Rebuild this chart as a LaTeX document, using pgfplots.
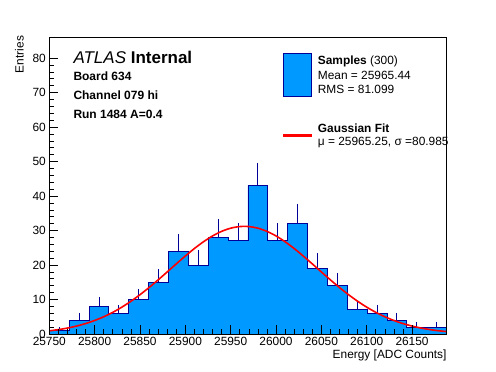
\documentclass[border=0pt]{standalone}
\usepackage{fontspec}
\setmainfont{Liberation Sans}
\usepackage{pgfplots}
\pgfplotsset{compat=1.18}
\definecolor{histfill}{RGB}{0,153,255}
\definecolor{histline}{RGB}{0,0,153}
\definecolor{fitred}{RGB}{255,0,0}
\begin{document}
\begin{tikzpicture}
\useasboundingbox (0pt,0pt) rectangle (496pt,372pt);
\begin{axis}[
  at={(49.3pt,38pt)}, anchor=south west,
  scale only axis, width=397.4pt, height=296.7pt,
  xmin=25750, xmax=26188.2, ymin=0, ymax=86,
  axis on top,
  tick align=inside, tick pos=left,
  major tick length=9pt, minor tick length=4.5pt,
  xtick={25750,25800,...,26150}, minor x tick num=4,
  ytick={0,10,...,80}, minor y tick num=4,
  scaled x ticks=false,
  /pgf/number format/1000 sep={},
  /pgf/number format/assume math mode=true,
  tick label style={font=\fontsize{11.9}{14}\selectfont},
  every tick/.style={black, line width=0.6pt},
  axis line style={line width=0.8pt},
  xlabel={Energy [ADC Counts]},
  xlabel style={at={(axis description cs:1,-0.052)}, anchor=north east, inner sep=0pt, font=\fontsize{11.9}{14}\selectfont},
  ylabel={Entries},
  ylabel style={at={(axis description cs:-0.0637,1.005)}, anchor=south east, inner sep=0pt, font=\fontsize{11.9}{14}\selectfont},
]
% histogram (bin width 21.9)
\addplot[const plot mark left, fill=histfill, draw=histline, line width=0.8pt] coordinates {
(25750.0,1) (25771.9,4) (25793.8,8) (25815.7,6) (25837.6,10)
(25859.5,15) (25881.4,24) (25903.3,20) (25925.2,28) (25947.1,27)
(25969.0,43) (25990.9,27) (26012.8,32) (26034.7,19) (26056.6,14)
(26078.5,7) (26100.4,6) (26122.3,4) (26144.2,2) (26166.1,2) (26188.0,2)
} \closedcycle;
% statistical error bars (upper part visible)
\addplot[draw=none, mark=none, forget plot, error bars/.cd, y dir=plus, y explicit, error mark=none,
  error bar style={draw=histline, line width=0.8pt}] coordinates {
(25760.95,1) +- (0,1.00)
(25782.85,4) +- (0,2.00)
(25804.75,8) +- (0,2.83)
(25826.65,6) +- (0,2.45)
(25848.55,10) +- (0,3.16)
(25870.45,15) +- (0,3.87)
(25892.35,24) +- (0,4.90)
(25914.25,20) +- (0,4.47)
(25936.15,28) +- (0,5.29)
(25958.05,27) +- (0,5.20)
(25979.95,43) +- (0,6.56)
(26001.85,27) +- (0,5.20)
(26023.75,32) +- (0,5.66)
(26045.65,19) +- (0,4.36)
(26067.55,14) +- (0,3.74)
(26089.45,7) +- (0,2.65)
(26111.35,6) +- (0,2.45)
(26133.25,4) +- (0,2.00)
(26155.15,2) +- (0,1.41)
(26177.05,2) +- (0,1.41)
};
% Gaussian fit curve
\addplot[fitred, line width=1.6pt, smooth] coordinates {
(25750,0.92) (25760,1.27) (25770,1.72) (25780,2.30) (25790,3.02) (25800,3.92)
(25810,5.00) (25820,6.28) (25830,7.78) (25840,9.49) (25850,11.39) (25860,13.47)
(25870,15.68) (25880,17.99) (25890,20.32) (25900,22.61) (25910,24.78) (25920,26.74)
(25930,28.42) (25940,29.75) (25950,30.67) (25960,31.14) (25970,31.14) (25980,30.67)
(25990,29.75) (26000,28.42) (26010,26.74) (26020,24.78) (26030,22.61) (26040,20.32)
(26050,17.99) (26060,15.68) (26070,13.47) (26080,11.39) (26090,9.49) (26100,7.78)
(26110,6.28) (26120,5.00) (26130,3.92) (26140,3.02) (26150,2.30) (26160,1.72)
(26170,1.27) (26180,0.92) (26188,0.70)
};
% legend symbols
\draw[histline, fill=histfill, line width=0.7pt] (rel axis cs:0.5881,0.7998) rectangle (rel axis cs:0.6603,0.9461);
\fill[fitred] (rel axis cs:0.5881,0.6650) rectangle (rel axis cs:0.6611,0.6730);
\end{axis}
% ATLAS label block
\node[anchor=base west, inner sep=0pt, font=\fontsize{17}{20}\selectfont] at (73.3pt,308pt) {\textit{ATLAS} \textbf{Internal}};
\node[anchor=base west, inner sep=0pt, font=\fontsize{12}{14}\selectfont\bfseries] at (73.3pt,291pt) {Board 634};
\node[anchor=base west, inner sep=0pt, font=\fontsize{12}{14}\selectfont\bfseries] at (73.3pt,272pt) {Channel 079 hi};
\node[anchor=base west, inner sep=0pt, font=\fontsize{12}{14}\selectfont\bfseries] at (73.3pt,253.5pt) {Run 1484 A=0.4};
% legend texts
\node[anchor=base west, inner sep=0pt, font=\fontsize{11.9}{14}\selectfont] at (317.7pt,307pt) {\textbf{Samples} (300)};
\node[anchor=base west, inner sep=0pt, font=\fontsize{11.9}{14}\selectfont] at (317.7pt,292.7pt) {Mean = 25965.44};
\node[anchor=base west, inner sep=0pt, font=\fontsize{11.9}{14}\selectfont] at (317.7pt,278.7pt) {RMS = 81.099};
\node[anchor=base west, inner sep=0pt, font=\fontsize{11.9}{14}\selectfont] at (317.7pt,239pt) {\textbf{Gaussian Fit}};
\node[anchor=base west, inner sep=0pt, font=\fontsize{11.9}{14}\selectfont] at (317.7pt,226pt) {μ = 25965.25, σ =80.985};
\end{tikzpicture}
\end{document}
